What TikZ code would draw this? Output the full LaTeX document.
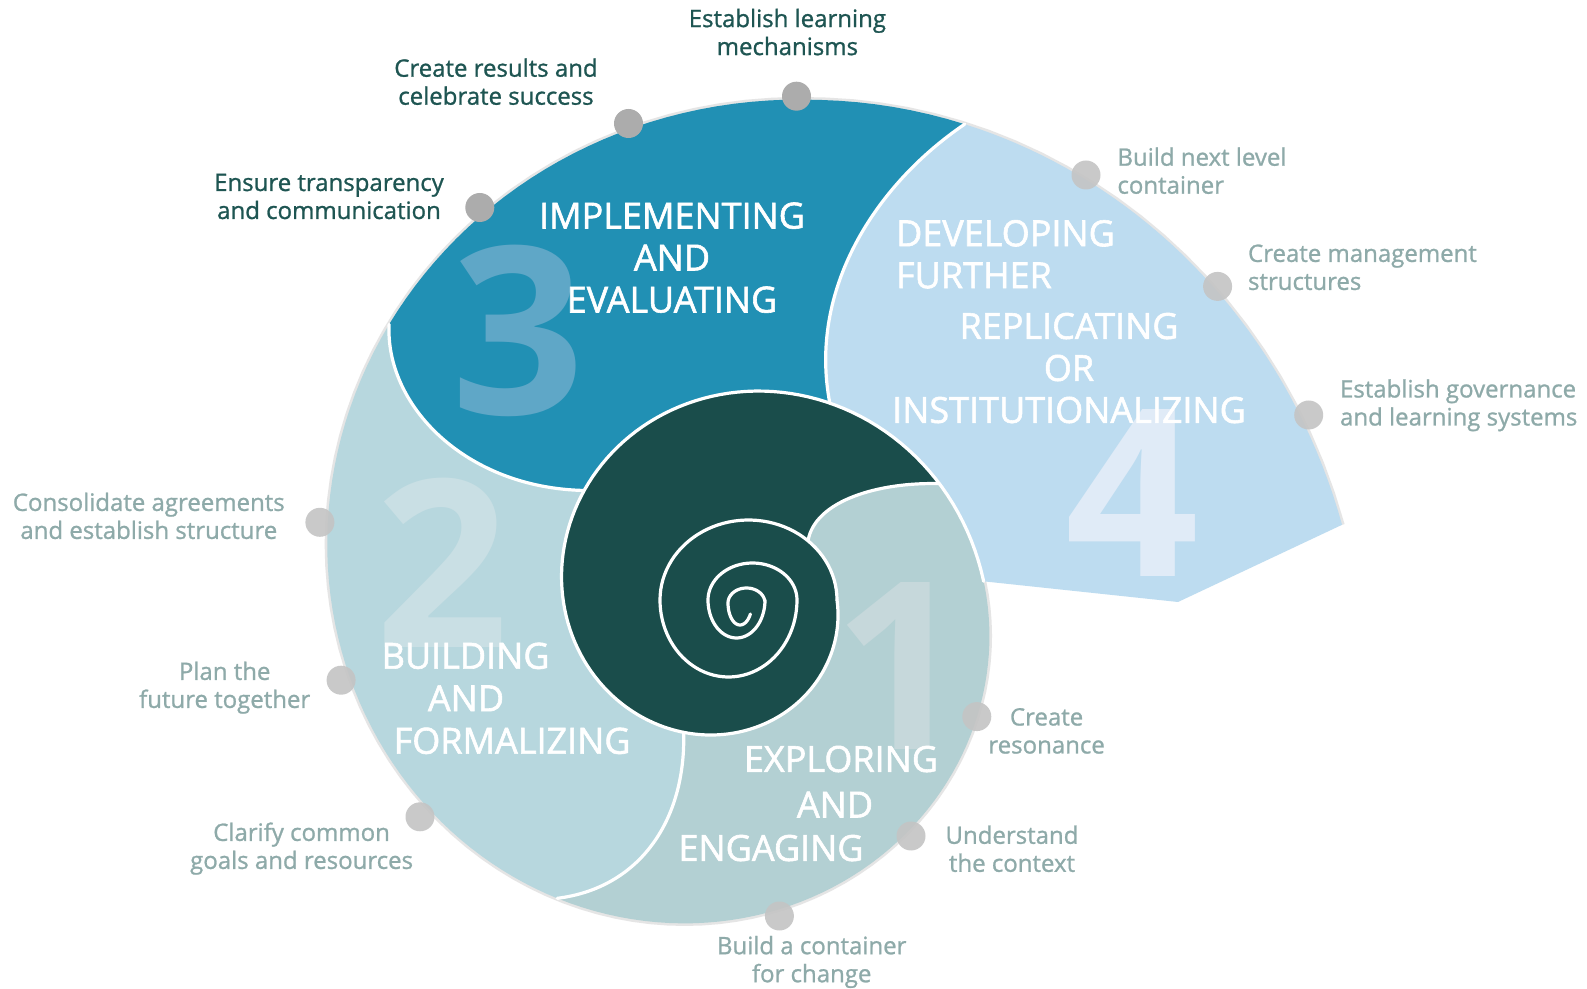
\documentclass[tikz,border=0pt]{standalone}
\usepackage{fontspec}
\setmainfont{Open Sans}
\newfontfamily\semib[FakeBold=1.0]{Open Sans}
\newfontfamily\semibig[FakeBold=1.6]{Open Sans}
\definecolor{segA}{RGB}{179,208,211}
\definecolor{segB}{RGB}{183,215,222}
\definecolor{segC}{RGB}{33,144,180}
\definecolor{segD}{RGB}{189,220,240}
\definecolor{core}{RGB}{26,77,75}
\definecolor{numA}{RGB}{198,216,219}
\definecolor{numB}{RGB}{201,223,228}
\definecolor{numC}{RGB}{95,167,199}
\definecolor{numD}{RGB}{224,235,247}
\definecolor{darklab}{RGB}{30,85,82}
\definecolor{graylab}{RGB}{142,170,169}
\definecolor{dotdark}{RGB}{172,172,172}
\definecolor{dotlight}{RGB}{196,196,196}
\pgfmathdeclarefunction{spr}{1}{\pgfmathparse{107.5*exp(0.0024319*#1)+0.15*max(0,#1-640)}}
\pgfmathdeclarefunction{spx}{1}{\pgfmathparse{729.5+spr(#1)*cos(#1)}}
\pgfmathdeclarefunction{spy}{1}{\pgfmathparse{600+spr(#1)*sin(#1)}}
\begin{document}
\begin{tikzpicture}[x=0.5pt,y=-0.5pt,
  wline/.style={white, line width=1.6pt, line join=round, line cap=round},
  dotD/.style={circle, fill=dotdark, minimum size=14.5pt, inner sep=0pt},
  dotL/.style={circle, fill=dotlight, minimum size=14.5pt, inner sep=0pt, fill opacity=0.9},
  labD/.style={text=darklab, font=\semib\fontsize{12}{14}\selectfont, align=center, anchor=base},
  labG/.style={text=graylab, font=\semib\fontsize{12}{14}\selectfont, align=center, anchor=base},
  big/.style={text=white, font=\semibig\fontsize{18}{21}\selectfont, anchor=base},
  num/.style={font=\bfseries\fontsize{117}{117}\selectfont, anchor=base, inner sep=0pt}]
\useasboundingbox (0,0) rectangle (1587,989);
\fill[white] (0,0) rectangle (1587,989);
% key points on the spiral
\foreach \nm/\ang in {c34o/656.3, c34i/297, c23o/579, c23i/217, c12o/480, c12i/109.1, tip/331, c41/355.8}{
  \pgfmathsetmacro\px{spx(\ang)}\pgfmathsetmacro\py{spy(\ang)}
  \coordinate (\nm) at (\px,\py);
}
\coordinate (notch) at (808,540.8);
\coordinate (c4b) at (1178,602);
% faint outer rim
\draw[black!10, line width=2.6pt] plot[domain=355.8:713, samples=120, variable=\t] ({spx(\t)},{spy(\t)});
% segment 4
\fill[segD] (c34o) -- plot[domain=656.3:713, samples=40, variable=\t] ({spx(\t)},{spy(\t)}) -- (c4b) -- (c41)
  -- plot[domain=355.8:297, samples=30, variable=\t] ({spx(\t)},{spy(\t)})
  .. controls (808,290) and (875,185) .. (c34o) -- cycle;
% segment 3
\fill[segC] (c23o) -- plot[domain=579:656.3, samples=40, variable=\t] ({spx(\t)},{spy(\t)})
  .. controls (875,185) and (808,290) .. (c34i)
  -- plot[domain=297:217, samples=40, variable=\t] ({spx(\t)},{spy(\t)})
  .. controls (465,488) and (385,405) .. (c23o) -- cycle;
% segment 2
\fill[segB] (c12o) -- plot[domain=480:579, samples=50, variable=\t] ({spx(\t)},{spy(\t)})
  .. controls (385,405) and (465,488) .. (c23i)
  -- plot[domain=217:109.1, samples=50, variable=\t] ({spx(\t)},{spy(\t)})
  .. controls (686,820) and (640,888) .. (c12o) -- cycle;
% segment 1
\fill[segA] (tip) -- plot[domain=331:480, samples=70, variable=\t] ({spx(\t)},{spy(\t)})
  .. controls (640,888) and (686,820) .. (c12i)
  -- plot[domain=109.1:0, samples=50, variable=\t] ({spx(\t)},{spy(\t)})
  -- plot[domain=0:-47.76, samples=20, variable=\t] ({748.5+88.5*cos(\t)},{600+80*sin(\t)})
  .. controls (815,500) and (880,482) .. (tip) -- cycle;
% dark core
\fill[core] plot[domain=0:331, samples=120, variable=\t] ({spx(\t)},{spy(\t)})
  .. controls (880,482) and (815,500) .. (notch)
  -- plot[domain=-47.76:0, samples=20, variable=\t] ({748.5+88.5*cos(\t)},{600+80*sin(\t)}) -- cycle;
% big numbers
\node[num, text=numC] (n3) at (518,415) {3};
\node[num, text=numB] (n2) at (441.8,647.7) {2};
\node[num, text=numA] (n1) at (900.7,749) {1};
\node[num, text=numD] (n4) at (1132.6,577) {4};
% white separating lines
\draw[wline] plot[domain=0:355.8, samples=150, variable=\t] ({spx(\t)},{spy(\t)});
\draw[wline] (c34i) .. controls (808,290) and (875,185) .. (c34o);
\draw[wline] (c23o) .. controls (385,405) and (465,488) .. (c23i);
\draw[wline] (c12o) .. controls (640,888) and (686,820) .. (c12i);
\draw[wline] (tip) .. controls (880,482) and (815,500) .. (notch);
\draw[wline] plot[domain=0:-180,samples=50,variable=\t] ({748.5+88.5*cos(\t)},{600+80*sin(\t)})
  -- plot[domain=180:0,samples=50,variable=\t] ({728.5+68.5*cos(\t)},{600+77*sin(\t)})
  -- plot[domain=0:-180,samples=40,variable=\t] ({752.5+44.5*cos(\t)},{600+37*sin(\t)})
  -- plot[domain=180:0,samples=40,variable=\t] ({736.5+28.5*cos(\t)},{600+38*sin(\t)})
  -- plot[domain=0:-180,samples=30,variable=\t] ({746.5+18.5*cos(\t)},{603+15*sin(\t)})
  -- plot[domain=180:30,samples=30,variable=\t] ({740+12*cos(\t)},{603+22*sin(\t)});
% dots
\node[dotD] (d1) at (796.5,96.2) {};
\node[dotD] (d2) at (628.5,123.5) {};
\node[dotD] (d3) at (479.8,207.5) {};
\node[dotL] (d4) at (1086,175) {};
\node[dotL] (d5) at (1217.6,286.4) {};
\node[dotL] (d6) at (1308.7,415) {};
\node[dotL] (d7) at (319.9,522.3) {};
\node[dotL] (d8) at (341.1,680.2) {};
\node[dotL] (d9) at (420,816.8) {};
\node[dotL] (d10) at (976.8,716.6) {};
\node[dotL] (d11) at (911,836) {};
\node[dotL] (d12) at (779.4,916) {};
% small labels (anchored at the baseline of the last line)
\node[labD] (t1) at (787.4,55.1) {Establish learning\\mechanisms};
\node[labD] (t2) at (496,104.7) {Create results and\\celebrate success};
\node[labD] (t3) at (329,219) {Ensure transparency\\and communication};
\node[labG, align=left, anchor=base west] (t4) at (1110.4,193.7) {Build next level\\container};
\node[labG, align=left, anchor=base west] (t5) at (1241,289.9) {Create management\\structures};
\node[labG, align=left, anchor=base west] (t6) at (1333,425.5) {Establish governance\\and learning systems};
\node[labG] (t7) at (148.8,538.9) {Consolidate agreements\\and establish structure};
\node[labG] (t8) at (224.7,707.9) {Plan the\\future together};
\node[labG] (t9) at (301.6,868.9) {Clarify common\\goals and resources};
\node[labG] (t10) at (1046.6,753.5) {Create\\resonance};
\node[labG] (t11) at (1012,871.8) {Understand\\the context};
\node[labG] (t12) at (811.7,982.2) {Build a container\\for change};
% stage labels
\node[big, align=center] (l3) at (672,312.5) {IMPLEMENTING\\AND\\EVALUATING};
\node[big, align=left, anchor=base west] (l4a) at (889,288.2) {DEVELOPING\\FURTHER};
\node[big, align=center] (l4b) at (1069,422.9) {REPLICATING\\OR\\INSTITUTIONALIZING};
\node[big] (l2a) at (465.6,668.7) {BUILDING};
\node[big] (l2b) at (466,711.2) {AND};
\node[big] (l2c) at (512.1,753.7) {FORMALIZING};
\node[big] (l1a) at (841,771.9) {EXPLORING};
\node[big] (l1b) at (835,817.5) {AND};
\node[big] (l1c) at (771,860.9) {ENGAGING};
\end{tikzpicture}
\end{document}
